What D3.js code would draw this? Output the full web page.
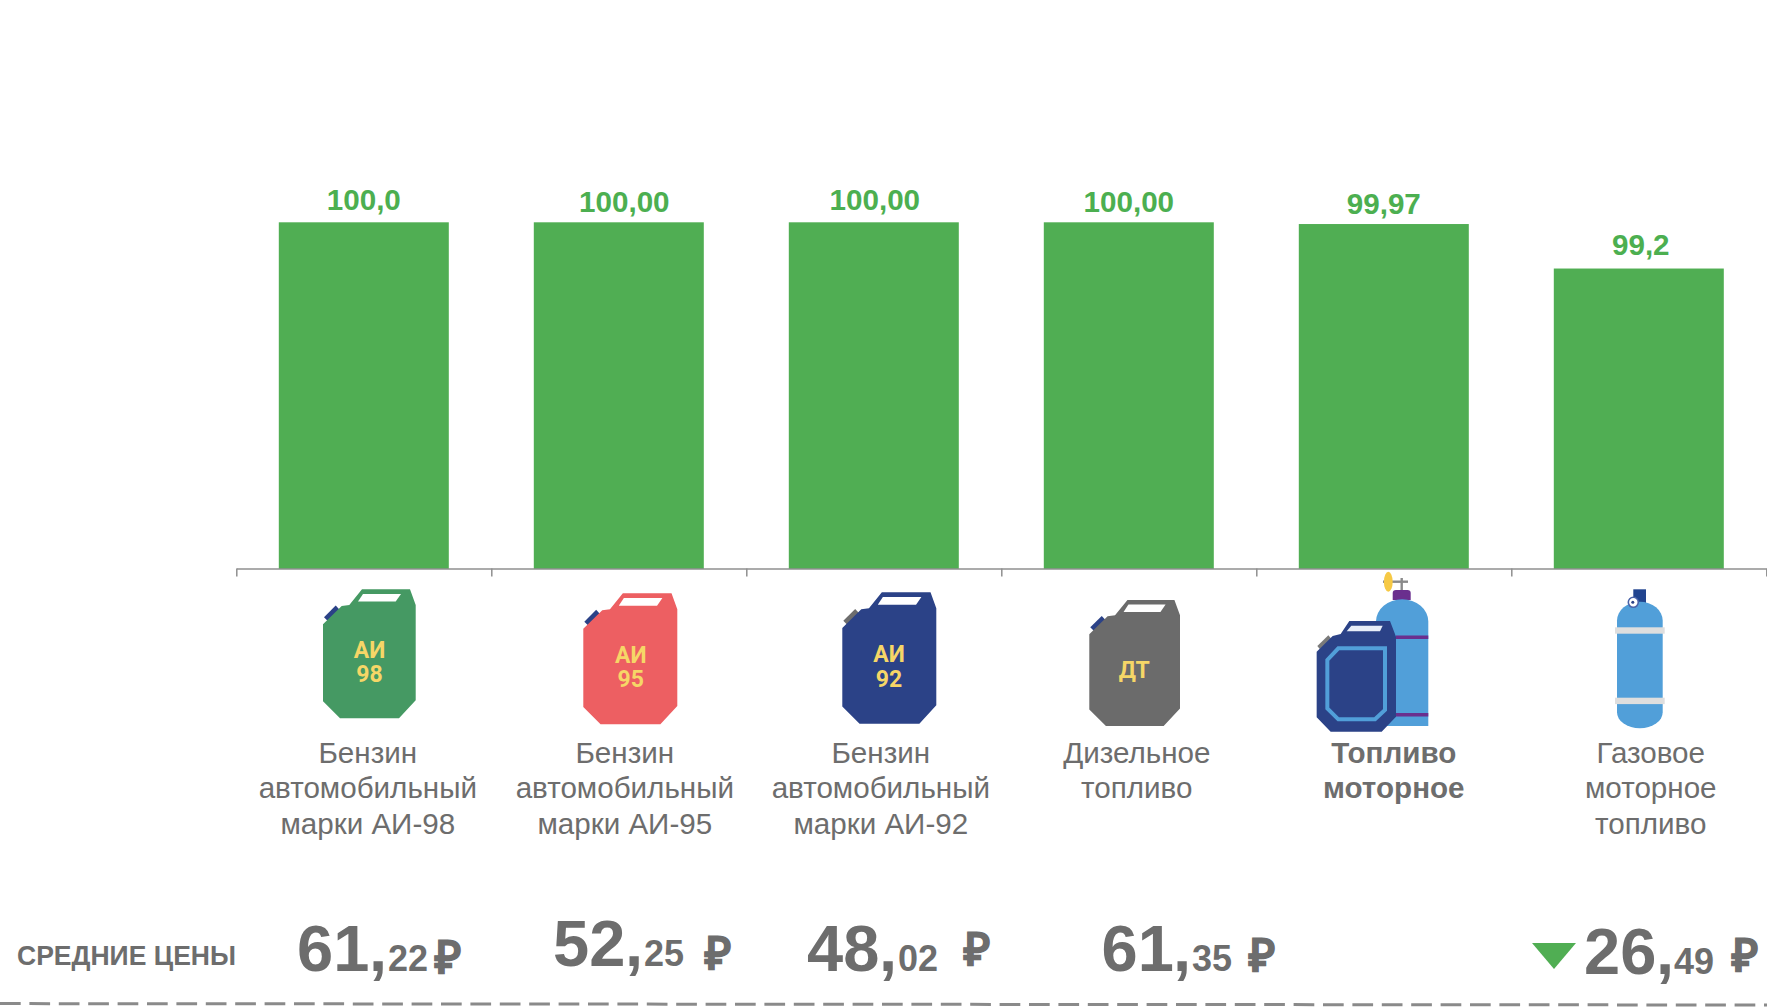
<!DOCTYPE html>
<html><head><meta charset="utf-8">
<script src="https://cdnjs.cloudflare.com/ajax/libs/d3/7.8.5/d3.min.js"></script>
<style>html,body{margin:0;padding:0;background:#fff;overflow:hidden}svg{display:block;font-family:"Liberation Sans",Arial,sans-serif}</style>
</head><body><svg id="c" width="1767" height="1008"></svg>
<script>
const categories = ["Бензин автомобильный марки АИ-98","Бензин автомобильный марки АИ-95","Бензин автомобильный марки АИ-92","Дизельное топливо","Топливо моторное","Газовое моторное топливо"];
const categoryLines = [["Бензин","автомобильный","марки АИ-98"],["Бензин","автомобильный","марки АИ-95"],["Бензин","автомобильный","марки АИ-92"],["Дизельное","топливо"],["Топливо","моторное"],["Газовое","моторное","топливо"]];
const values = [100,100,100,100,99.97,99.2];
const valueLabels = ["100,0","100,00","100,00","100,00","99,97","99,2"];
const prices = [61.22,52.25,48.02,61.35,null,26.49];
const priceTitle = "СРЕДНИЕ ЦЕНЫ";

const GREY="#6d6d6d", GREEN="#50ae53", LABEL="#4caf50", YEL="#f6d667", NAVY="#2b4287", SKY="#519fd9", PURPLE="#6a2f8e";
const svg=d3.select("#c");

const x=d3.scaleBand().domain(categories).range([236.3,1766.3]).paddingInner(1/3).paddingOuter(1/6);
const y=d3.scaleLinear().domain([94,100]).range([569,222.3]);
const edge=d3.scaleLinear().domain([0,6]).range([236.3,1766.3]);

svg.selectAll("rect.bar").data(values).join("rect").attr("class","bar")
  .attr("x",(d,i)=>x(categories[i])).attr("width",x.bandwidth())
  .attr("y",d=>y(d)).attr("height",d=>y.range()[0]-y(d)).attr("fill",GREEN);

const ax=svg.append("g").attr("transform","translate(0,568.5)")
  .call(d3.axisBottom(edge).tickValues(d3.range(7)).tickFormat("").tickSize(8).tickSizeOuter(0));
ax.selectAll("path,line").attr("stroke","#8f8f8f").attr("stroke-width",1.5);

// value labels
const labelDx=[0,5.5,1,0,0,2], labelDy=[-2,0,-2,0,0,-3.5];
svg.selectAll("text.val").data(valueLabels).join("text").attr("class","val")
  .attr("x",(d,i)=>x(categories[i])+x.bandwidth()/2+labelDx[i])
  .attr("y",(d,i)=>y(values[i])-10.5+labelDy[i])
  .attr("text-anchor","middle").attr("font-size",29.6).attr("font-weight",700).attr("fill",LABEL).text(d=>d);

// category labels
const catDx=[4,6,7,8,10,12];
categoryLines.forEach((lines,i)=>{
  const cx=x(categories[i])+x.bandwidth()/2+catDx[i];
  lines.forEach((t,j)=>svg.append("text").attr("x",cx).attr("y",762.5+j*35.6)
    .attr("text-anchor","middle").attr("font-size",29.6).attr("font-weight",i==4?700:400).attr("fill",GREY).text(t));
});

// canister icons
const canBody=[[39,0],[87,0],[92.7,15.7],[92.7,111],[76,129],[17,129],[0,112],[0,35],[18.7,16.7],[26.3,15.7]];
const canWin=[[40,4.7],[78,4.7],[72.7,12.3],[35,12.3]];
const canCap=[[1,28],[12.7,16.3],[17.3,21.3],[5.3,32.3]];
const line=d3.line();
function can(px,py,w,h,col,capCol){
  const g=svg.append("g").attr("transform",`translate(${px},${py}) scale(${w/92.7},${h/129})`);
  g.append("path").attr("d",line(canCap)+"Z").attr("fill",capCol);
  g.append("path").attr("d",line(canBody)+"Z").attr("fill",col);
  g.append("path").attr("d",line(canWin)+"Z").attr("fill","#fff");
  return g;
}
can(323,589.3,92.7,129,"#459963",NAVY);
can(583.3,593.3,94,131,"#ed5f62",NAVY);
can(842.3,592.3,94,131.4,NAVY,GREY);
can(1089.3,600,90.7,126,"#6b6b6b",NAVY);
function canText(cx,by,t){svg.append("text").attr("x",cx).attr("y",by).attr("text-anchor","middle")
  .style("font-family","Roboto").attr("font-size",23).attr("font-weight",700).attr("fill",YEL).text(t);}
canText(369.5,658,"АИ");canText(369.5,682.4,"98");
canText(630.7,662.7,"АИ");canText(630.7,687.3,"95");
canText(889,662,"АИ");canText(889,686.7,"92");
canText(1134.3,677.5,"ДТ");

// combined icon (cylinder + canister)
function cylinder(g,x0,x1,top,bot,rTop,rBot,col){
  g.append("path").attr("d",`M${x0},${bot-rBot}V${top+rTop}A${(x1-x0)/2},${rTop} 0 0 1 ${x1},${top+rTop}V${bot-rBot}`+(rBot?`A${(x1-x0)/2},${rBot} 0 0 1 ${x0},${bot-rBot}`:"")+"Z").attr("fill",col);
}
const k=svg.append("g");
k.append("rect").attr("x",1383).attr("y",580.5).attr("width",25).attr("height",2.4).attr("fill","#8a8a8a");
k.append("rect").attr("x",1400.5).attr("y",578).attr("width",2.4).attr("height",13).attr("fill","#8a8a8a");
k.append("ellipse").attr("cx",1388.3).attr("cy",581.7).attr("rx",4.4).attr("ry",10).attr("fill","#f6c945");
k.append("path").attr("d","M1392.7,600V593Q1392.7,590 1396,590H1407.5Q1410.7,590 1410.7,593V600Z").attr("fill",PURPLE);
cylinder(k,1376,1428.3,599.3,726,22,0,SKY);
k.append("rect").attr("x",1396).attr("y",635.5).attr("width",32.3).attr("height",3.5).attr("fill",PURPLE);
k.append("rect").attr("x",1396).attr("y",713).attr("width",32.3).attr("height",3.5).attr("fill",PURPLE);
const kc=c=>[1260+c[0]/3,560+c[1]/3];
k.append("path").attr("d",line([[172,258],[205,226],[214,236],[180,268]].map(kc))+"Z").attr("fill","#7a7a7a");
k.append("path").attr("d",line([[268,183],[390,183],[408,230],[408,470],[365,515],[212,515],[170,472],[170,275],[218,228],[242,222]].map(kc))+"Z").attr("fill",NAVY);
k.append("path").attr("d",line([[274,197],[345,197],[368,197],[360,214],[260,214]].map(kc))+"Z").attr("fill","#e8eef8");
k.append("path").attr("d",line([[235,265],[375,265],[375,450],[345,478],[235,478],[202,445],[202,300]].map(kc))+"Z").attr("fill","none").attr("stroke",SKY).attr("stroke-width",4);

// gas cylinder icon
const g2=svg.append("g");
g2.append("rect").attr("x",1633.3).attr("y",589.3).attr("width",12.7).attr("height",14).attr("fill","#21448f");
cylinder(g2,1617,1662.7,601.7,728.3,19,16,SKY);
g2.append("rect").attr("x",1615).attr("y",627.3).attr("width",49.7).attr("height",6.4).attr("fill","#dedede");
g2.append("rect").attr("x",1615).attr("y",697.7).attr("width",49.7).attr("height",6.4).attr("fill","#dedede");
g2.append("circle").attr("cx",1633.3).attr("cy",602.3).attr("r",5).attr("fill","#fff").attr("stroke","#4a63a8").attr("stroke-width",1.6);
g2.append("circle").attr("cx",1632.8).attr("cy",602.3).attr("r",1.5).attr("fill","#2b4287");

// price row
svg.append("text").attr("x",17).attr("y",964.5).attr("font-size",27).attr("font-weight",700).attr("fill",GREY)
  .attr("textLength",219).attr("lengthAdjust","spacingAndGlyphs").text(priceTitle);
const priceX=[[297,369,388,435],[553,625,644,705],[807,879,898,963.5],[1101.5,1173,1192,1248.5],null,[1584,1656,1674,1732]];
const priceBase=[971,966,970.5,971,null,974];
const rubBase=[973,969,965,971,null,971];
prices.forEach((p,i)=>{
  if(p==null) return;
  const [w,f]=p.toFixed(2).split(".");
  const [x1,x2,x3,x4]=priceX[i], b=priceBase[i];
  svg.append("text").attr("x",x1).attr("y",b).attr("font-size",65).attr("font-weight",700).attr("fill",GREY).text(w);
  svg.append("text").attr("x",x2).attr("y",b).attr("font-size",65).attr("font-weight",700).attr("fill",GREY).text(",");
  svg.append("text").attr("x",x3).attr("y",b).attr("font-size",36).attr("font-weight",700).attr("fill",GREY).text(f);
  svg.append("text").attr("x",x4).attr("y",rubBase[i]).attr("font-size",45).attr("font-weight",700).attr("fill",GREY).attr("stroke",GREY).attr("stroke-width",1.2).text("₽");
});
svg.append("path").attr("d",line([[1532,943],[1576,943],[1554,969]])+"Z").attr("fill",GREEN);

// dashed rule
svg.append("line").attr("x1",0).attr("x2",1767).attr("y1",1003.6).attr("y2",1005).attr("stroke","#8a8a8a").attr("stroke-width",3).attr("stroke-dasharray","20.7 8.7");
</script></body></html>
